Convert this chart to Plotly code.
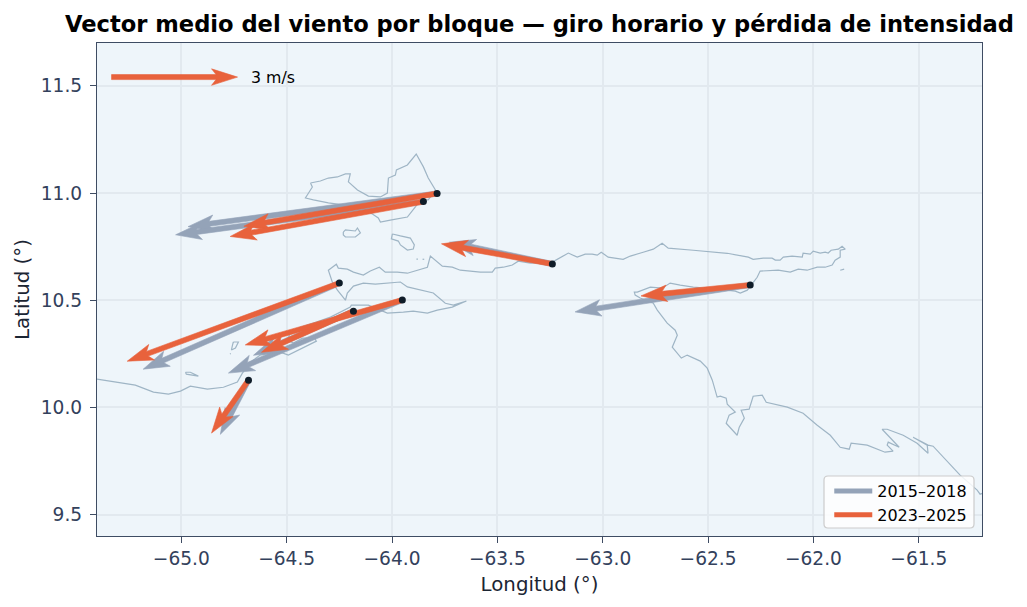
import plotly.graph_objects as go

# Block centres (degrees)
block_lon = [-63.786, -63.851, -63.239, -62.30, -64.25, -63.951, -64.183, -64.681]
block_lat = [10.998, 10.960, 10.669, 10.571, 10.58, 10.501, 10.449, 10.127]

# Mean wind vector per block and period (m/s)
u_2015 = [-5.93, -5.90, -2.45, -4.17, -4.67, -4.14, -2.38, -0.67]
v_2015 = [-0.79, -0.79, 0.52, -0.64, -2.05, -1.74, -1.05, -1.29]
u_2023 = [-4.60, -4.60, -2.64, -2.60, -5.05, -3.74, -2.19, -0.88]
v_2023 = [-0.78, -0.83, 0.48, -0.26, -1.86, -1.07, -0.98, -1.26]

key_lon, key_lat, key_speed = -65.331, 11.541, 3.0

# Coastline: mainland from the western edge round the gulfs and peninsulas
coast_lon = [
    -65.400, -65.303, -65.218, -65.132, -65.061, -65.004, -64.957, -64.876, -64.800, -64.734,
    -64.710, -64.672, -64.625, -64.577, -64.530, -64.492, -64.444, -64.402, -64.359, -64.368,
    -64.425, -64.468, -64.496, -64.482, -64.435, -64.359, -64.292, -64.198, -64.193, -64.112,
    -64.055, -64.022, -63.946, -63.899, -63.832, -63.785, -63.714, -63.676, -63.647, -63.709,
    -63.747, -63.804, -63.866, -63.927, -63.960, -64.022, -64.079, -64.136, -64.183, -64.212,
    -64.221, -64.259, -64.283, -64.302, -64.278, -64.264, -64.255, -64.212, -64.183, -64.136,
    -64.103, -64.060, -64.032, -63.975, -63.927, -63.880, -63.832, -63.818, -63.794, -63.761,
    -63.714, -63.676, -63.628, -63.581, -63.524, -63.510, -63.472, -63.429, -63.401, -63.344,
    -63.239, -63.163, -63.121, -63.083, -63.050, -63.026, -63.007, -62.974, -62.903, -62.869,
    -62.808, -62.760, -62.718, -62.689, -62.570, -62.409, -62.309, -62.286, -62.238, -62.196,
    -62.181, -62.158, -62.143, -62.101, -62.053, -62.049, -62.015, -62.001, -61.968, -61.944,
    -61.930, -61.916, -61.882, -61.864, -61.849, -61.873, -61.873, -61.897, -61.911, -61.944,
    -61.982, -62.030, -62.072, -62.110, -62.167, -62.253, -62.267, -62.295, -62.314, -62.347,
    -62.371, -62.442, -62.513, -62.570, -62.632, -62.680, -62.718, -62.774, -62.836, -62.850,
    -62.846, -62.822, -62.760, -62.741, -62.694, -62.656, -62.646, -62.670, -62.627, -62.599,
    -62.537, -62.504, -62.480, -62.457, -62.442, -62.414, -62.409, -62.371, -62.400, -62.414,
    -62.362, -62.352, -62.328, -62.343, -62.305, -62.286, -62.243, -62.224, -62.124, -62.049,
    -61.982, -61.920, -61.873, -61.830, -61.821, -61.745, -61.660, -61.622, -61.650, -61.645,
    -61.593, -61.636, -61.674, -61.650, -61.574, -61.508, -61.456, -61.460, -61.527, -61.456,
    -61.432, -61.304, -61.223, -61.209, -61.195,
]
coast_lat = [
    10.132, 10.118, 10.104, 10.071, 10.062, 10.076, 10.099, 10.085, 10.094, 10.118,
    10.160, 10.211, 10.244, 10.253, 10.258, 10.244, 10.267, 10.286, 10.309, 10.323,
    10.323, 10.300, 10.314, 10.351, 10.374, 10.398, 10.421, 10.468, 10.477, 10.477,
    10.454, 10.440, 10.444, 10.449, 10.440, 10.454, 10.468, 10.486, 10.496, 10.477,
    10.486, 10.534, 10.548, 10.562, 10.585, 10.580, 10.575, 10.580, 10.566, 10.533,
    10.500, 10.547, 10.584, 10.640, 10.659, 10.668, 10.650, 10.645, 10.631, 10.617,
    10.636, 10.654, 10.631, 10.631, 10.626, 10.640, 10.654, 10.706, 10.687, 10.659,
    10.654, 10.640, 10.636, 10.631, 10.631, 10.650, 10.654, 10.664, 10.682, 10.673,
    10.678, 10.720, 10.701, 10.715, 10.715, 10.710, 10.724, 10.701, 10.691, 10.706,
    10.724, 10.738, 10.766, 10.743, 10.733, 10.719, 10.701, 10.691, 10.696, 10.696,
    10.687, 10.687, 10.701, 10.706, 10.701, 10.720, 10.715, 10.729, 10.720, 10.724,
    10.720, 10.733, 10.738, 10.752, 10.738, 10.733, 10.701, 10.687, 10.664, 10.654,
    10.654, 10.640, 10.645, 10.631, 10.640, 10.636, 10.607, 10.570, 10.547, 10.533,
    10.542, 10.551, 10.556, 10.561, 10.570, 10.580, 10.556, 10.561, 10.538, 10.538,
    10.524, 10.510, 10.486, 10.454, 10.393, 10.360, 10.337, 10.281, 10.230, 10.244,
    10.216, 10.183, 10.127, 10.048, 10.052, 10.043, 10.015, 9.978, 9.964, 9.926,
    9.870, 9.908, 9.950, 9.987, 9.992, 10.052, 10.057, 10.024, 10.001, 9.973,
    9.917, 9.870, 9.814, 9.805, 9.833, 9.824, 9.791, 9.796, 9.824, 9.838,
    9.814, 9.861, 9.898, 9.898, 9.870, 9.833, 9.786, 9.824, 9.861, 9.824,
    9.819, 9.684, 9.614, 9.595, 9.600,
]

# Islands
margarita_lon = [
    -64.387, -64.378, -64.402, -64.411, -64.373, -64.302, -64.198, -64.093, -64.065, -64.055,
    -64.008, -63.960, -63.927, -63.889, -63.866, -63.828, -63.794, -63.828, -63.851, -63.885,
    -63.899, -63.927, -63.979, -63.984, -64.017, -64.022, -64.055, -64.112, -64.164, -64.207,
    -64.198, -64.221, -64.259, -64.302, -64.340, -64.387,
]
margarita_lat = [
    11.047, 11.028, 10.991, 10.977, 10.968, 10.954, 10.940, 10.902, 10.884, 10.865,
    10.874, 10.884, 10.888, 10.935, 10.968, 10.968, 11.014, 11.070, 11.122, 11.182,
    11.164, 11.131, 11.108, 11.084, 11.070, 11.000, 10.982, 10.986, 11.014, 11.052,
    11.089, 11.089, 11.075, 11.070, 11.056, 11.047,
]
cubagua_lon = [-64.231, -64.221, -64.174, -64.164, -64.150, -64.174, -64.221, -64.231, -64.231]
cubagua_lat = [10.818, 10.828, 10.823, 10.837, 10.814, 10.795, 10.795, 10.804, 10.818]
coche_lon = [-63.998, -64.003, -63.970, -63.960, -63.927, -63.899, -63.894, -63.913, -63.960, -63.998]
coche_lat = [10.809, 10.786, 10.776, 10.758, 10.734, 10.739, 10.758, 10.790, 10.800, 10.809]
tortuga_lon = [-64.980, -64.957, -64.919, -64.942, -64.976, -64.980]
tortuga_lat = [10.164, 10.164, 10.146, 10.150, 10.155, 10.164]
chimana_lon = [-64.753, -64.729, -64.743, -64.762, -64.757, -64.753]
chimana_lat = [10.305, 10.305, 10.277, 10.268, 10.291, 10.305]
islet_lon = [[-63.884, -63.877], [-63.855, -63.847], [-64.769, -64.765], [-61.873, -61.854]]
islet_lat = [[10.692, 10.692], [10.691, 10.691], [10.249, 10.251], [10.640, 10.645]]

period_names = ["2015–2018", "2023–2025"]
GRAY, ORANGE = "#94A3B8", "#E8623C"
COAST = "#9FB5C5"

WIDTH, HEIGHT = 1027, 607
LEFT, RIGHT, TOP, BOTTOM = 97, 45, 43, 71
PLOT_W, PLOT_H = WIDTH - LEFT - RIGHT, HEIGHT - TOP - BOTTOM
X_RANGE, Y_RANGE = (-65.4, -61.2), (9.4, 11.7)
PX_PER_LON = PLOT_W / (X_RANGE[1] - X_RANGE[0])
PX_PER_LAT = PLOT_H / (Y_RANGE[1] - Y_RANGE[0])

# Arrow geometry, in screen pixels
PX_PER_MS = 42.0
SHAFT_W, HEAD_W, HEAD_LEN, HEAD_AXIS = 5.0, 16.5, 26.0, 21.5


def arrow_outline(lon, lat, u, v):
    """Outline of one swept-head arrow in data coordinates."""
    dx, dy = u * PX_PER_MS, v * PX_PER_MS
    length = (dx * dx + dy * dy) ** 0.5
    ex, ey = dx / length, dy / length
    nx, ny = -ey, ex
    local = [
        (0, SHAFT_W / 2),
        (length - HEAD_AXIS, SHAFT_W / 2),
        (length - HEAD_LEN, HEAD_W / 2),
        (length, 0),
        (length - HEAD_LEN, -HEAD_W / 2),
        (length - HEAD_AXIS, -SHAFT_W / 2),
        (0, -SHAFT_W / 2),
        (0, SHAFT_W / 2),
    ]
    xs = [lon + (a * ex + b * nx) / PX_PER_LON for a, b in local]
    ys = [lat + (a * ey + b * ny) / PX_PER_LAT for a, b in local]
    return xs, ys


def rounded_box(x0, y0, x1, y1, r):
    """SVG path of a rounded box, given in pixels from the top-left of the page."""
    fx = lambda x: (x - LEFT) / PLOT_W
    fy = lambda y: (HEIGHT - BOTTOM - y) / PLOT_H
    return (
        f"M {fx(x0 + r)} {fy(y0)} L {fx(x1 - r)} {fy(y0)} "
        f"Q {fx(x1)} {fy(y0)} {fx(x1)} {fy(y0 + r)} L {fx(x1)} {fy(y1 - r)} "
        f"Q {fx(x1)} {fy(y1)} {fx(x1 - r)} {fy(y1)} L {fx(x0 + r)} {fy(y1)} "
        f"Q {fx(x0)} {fy(y1)} {fx(x0)} {fy(y1 - r)} L {fx(x0)} {fy(y0 + r)} "
        f"Q {fx(x0)} {fy(y0)} {fx(x0 + r)} {fy(y0)} Z"
    )


fig = go.Figure()


def add_coast(lons, lats):
    fig.add_trace(go.Scatter(
        x=lons, y=lats, mode="lines", showlegend=False, hoverinfo="skip",
        line=dict(color=COAST, width=1.2),
    ))


add_coast(coast_lon, coast_lat)
add_coast(margarita_lon, margarita_lat)
add_coast(cubagua_lon, cubagua_lat)
add_coast(coche_lon, coche_lat)
add_coast(tortuga_lon, tortuga_lat)
add_coast(chimana_lon, chimana_lat)
for xs, ys in zip(islet_lon, islet_lat):
    add_coast(xs, ys)


def add_arrow(lon, lat, u, v, color):
    xs, ys = arrow_outline(lon, lat, u, v)
    fig.add_trace(go.Scatter(
        x=xs, y=ys, mode="lines", fill="toself", fillcolor=color,
        line=dict(color=color, width=0.6), showlegend=False, hoverinfo="skip",
    ))


for lon, lat, u, v in zip(block_lon, block_lat, u_2015, v_2015):
    add_arrow(lon, lat, u, v, GRAY)
for lon, lat, u, v in zip(block_lon, block_lat, u_2023, v_2023):
    add_arrow(lon, lat, u, v, ORANGE)

# Reference arrow
add_arrow(key_lon, key_lat, key_speed, 0.0, ORANGE)

# Block centres on top of the arrows
fig.add_trace(go.Scatter(
    x=block_lon, y=block_lat, mode="markers", showlegend=False, hoverinfo="skip",
    marker=dict(color="#0F1C28", size=7),
))

# Legend entries
for name, color in zip(period_names, [GRAY, ORANGE]):
    fig.add_trace(go.Scatter(
        x=[None], y=[None], mode="lines", name=name,
        line=dict(color=color, width=5),
    ))

FONT = "DejaVu Sans"
axis_common = dict(
    dtick=0.5, tickformat=".1f", showgrid=True, gridcolor="#E2E9EF", gridwidth=1.5,
    zeroline=False, showline=True, linecolor="#3E4C63", linewidth=1.2, mirror=True,
    ticks="outside", ticklen=6, tickwidth=1.2, tickcolor="#3E4C63",
    tickfont=dict(family=FONT, size=18.6, color="#33415C"),
)

fig.update_layout(
    width=WIDTH, height=HEIGHT,
    margin=dict(l=LEFT, r=RIGHT, t=TOP, b=BOTTOM, autoexpand=False),
    paper_bgcolor="white", plot_bgcolor="#EEF5FA",
    font=dict(family=FONT, color="#000000"),
    title=dict(
        text="<b>Vector medio del viento por bloque — giro horario y pérdida de intensidad</b>",
        x=(LEFT + PLOT_W / 2) / WIDTH, xanchor="center",
        y=1 - 24 / HEIGHT, yanchor="middle",
        font=dict(family=FONT, size=22.6, color="#000000"),
    ),
    xaxis=dict(range=X_RANGE, tick0=-65.0, ticklabelstandoff=0,
               title=dict(text="Longitud (°)", standoff=8,
                          font=dict(family=FONT, size=19.8, color="#1B2533")),
               **axis_common),
    yaxis=dict(range=Y_RANGE, tick0=9.5, ticklabelstandoff=4,
               title=dict(text="Latitud (°)", standoff=5,
                          font=dict(family=FONT, size=19.8, color="#1B2533")),
               **axis_common),
    legend=dict(
        x=0.989, y=0.008, xanchor="right", yanchor="bottom",
        bgcolor="rgba(255,255,255,0)", borderwidth=0,
        font=dict(family=FONT, size=16, color="#000000"), itemwidth=38,
        tracegroupgap=0,
    ),
    # Rounded frame behind the legend entries
    shapes=[dict(
        type="path", xref="paper", yref="paper", layer="above",
        path=rounded_box(824, 476, 974, 528, 4),
        fillcolor="rgba(255,255,255,0.82)", line=dict(color="#CCCCCC", width=1.2),
    )],
    annotations=[dict(
        x=-64.68, y=key_lat, xref="x", yref="y", text="3 m/s", showarrow=False,
        xanchor="left", yanchor="middle",
        font=dict(family=FONT, size=15.8, color="#000000"),
    )],
)

fig.write_html("out.html")
